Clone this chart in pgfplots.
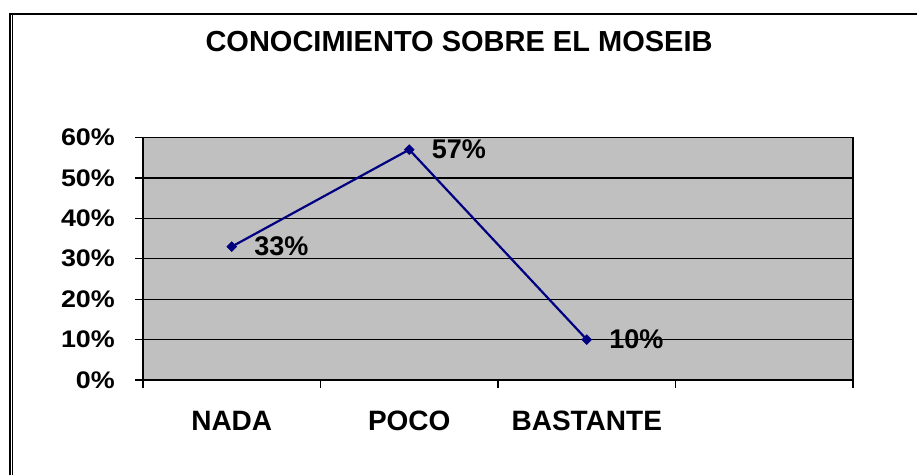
\documentclass[border=0pt]{standalone}
\usepackage{fontspec}
\setmainfont{Liberation Sans}
\newfontfamily\widefont[FakeStretch=1.12]{Liberation Sans}
\usepackage{pgfplots}
\pgfplotsset{compat=1.18}
\definecolor{plotgray}{HTML}{C0C0C0}
\definecolor{navyline}{HTML}{000080}
\begin{document}
\begin{tikzpicture}[x=1pt,y=1pt]
\path[use as bounding box] (0,0) rectangle (917,474);
\begin{scope}
\clip (0,0) rectangle (917,474);
\draw[line width=2pt] (10,-20) -- (10,460) -- (940,460);
\draw[line width=1pt] (12.7,-20) -- (12.7,460);
\end{scope}
\node[font=\bfseries\fontsize{29}{34}\selectfont, anchor=base, inner sep=0pt] at (459,422) {CONOCIMIENTO SOBRE EL MOSEIB};
\begin{axis}[
  at={(143pt,94pt)}, anchor=south west,
  scale only axis, width=710pt, height=242.5pt,
  xmin=0, xmax=4, ymin=0, ymax=60,
  axis background/.style={fill=plotgray},
  axis line style={line width=1.4pt},
  xtick={0,1,2,3,4}, xticklabels={},
  xtick pos=lower, ytick pos=left,
  extra x ticks={0.5,1.5,2.5},
  extra x tick labels={NADA,POCO,BASTANTE},
  extra x tick style={major tick length=0pt, grid=none,
     tick label style={font=\bfseries\fontsize{28}{33}\selectfont, anchor=base, yshift=-50pt, inner sep=0pt}},
  ytick={0,10,20,30,40,50,60},
  yticklabels={0\%,10\%,20\%,30\%,40\%,50\%,60\%},
  yticklabel style={font=\widefont\bfseries\fontsize{24}{28}\selectfont, anchor=east, inner sep=0pt, xshift=-20pt},
  tick align=outside, major tick length=8pt,
  tick style={black, line width=1.2pt},
  ymajorgrids, grid style={black, line width=1.3pt},
  clip=false,
]
\addplot[navyline, line width=2.2pt, mark=square*, mark size=3.5pt,
  mark options={fill=navyline, line width=0.5pt, rotate=45},
  nodes near coords, point meta=explicit symbolic,
  every node near coord/.append style={anchor=west, xshift=19pt, yshift=0pt, text=black,
     font=\bfseries\fontsize{27}{32}\selectfont}]
  coordinates {(0.5,33)[33\%] (1.5,57)[57\%] (2.5,10)[10\%]};
\end{axis}
\end{tikzpicture}
\end{document}
